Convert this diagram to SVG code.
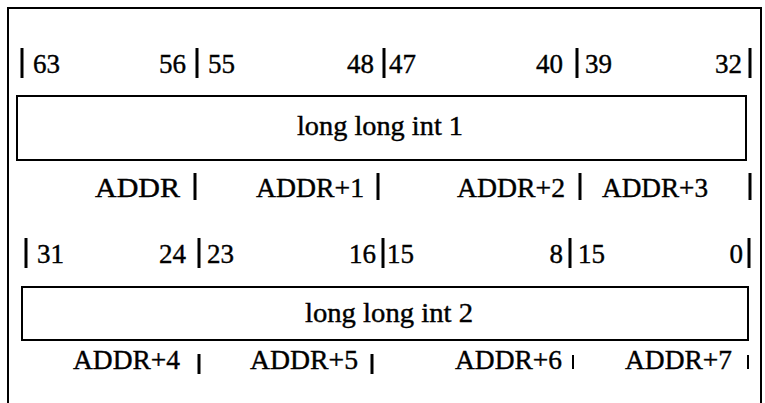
<svg xmlns="http://www.w3.org/2000/svg" width="765" height="403" viewBox="0 0 765 403">
<style>
text{font-size:27px;fill:#000;stroke:#000;stroke-width:0.4}
.e{text-anchor:end}
.frame{fill:none;stroke:#000;stroke-width:2}
.bar{stroke:#000;stroke-width:3}
.thin{stroke:#000;stroke-width:2}
</style>
<rect width="765" height="403" fill="#fff"/>
<g font-family="Liberation Serif, Times New Roman, serif">
<g id="frame">
<path class="frame" d="M8 410 V8 H761 V410"/>
</g>
<g id="bits-high">
<line class="bar" x1="22" y1="48" x2="22" y2="78"/>
<text x="33" y="73">63</text>
<text class="e" x="186" y="73">56</text>
<line class="bar" x1="197" y1="48" x2="197" y2="78"/>
<text x="208" y="73">55</text>
<text class="e" x="374" y="73">48</text>
<line class="bar" x1="384" y1="48" x2="384" y2="78"/>
<text x="389" y="73">47</text>
<text class="e" x="563" y="73">40</text>
<line class="bar" x1="577" y1="48" x2="577" y2="78"/>
<text x="585" y="73">39</text>
<text class="e" x="742" y="73">32</text>
<line class="bar" x1="750" y1="48" x2="750" y2="78"/>
</g>
<g id="int1">
<rect class="frame" x="17" y="96" width="729" height="64"/>
<text x="297" y="135" textLength="166" lengthAdjust="spacingAndGlyphs">long long int 1</text>
</g>
<g id="addr-high">
<text x="95" y="197" textLength="85" lengthAdjust="spacingAndGlyphs">ADDR</text>
<line class="bar" x1="195" y1="173" x2="195" y2="200"/>
<text x="256" y="197" textLength="108" lengthAdjust="spacingAndGlyphs">ADDR+1</text>
<line class="bar" x1="378" y1="173" x2="378" y2="200"/>
<text x="457" y="197" textLength="108" lengthAdjust="spacingAndGlyphs">ADDR+2</text>
<line class="bar" x1="580" y1="173" x2="580" y2="200"/>
<text x="602" y="197" textLength="106" lengthAdjust="spacingAndGlyphs">ADDR+3</text>
<line class="bar" x1="750" y1="173" x2="750" y2="200"/>
</g>
<g id="bits-low">
<line class="bar" x1="26" y1="238" x2="26" y2="268"/>
<text x="37" y="263">31</text>
<text class="e" x="186" y="263">24</text>
<line class="bar" x1="199" y1="238" x2="199" y2="268"/>
<text x="207" y="263">23</text>
<text class="e" x="376" y="263">16</text>
<line class="bar" x1="383" y1="238" x2="383" y2="268"/>
<text x="387" y="263">15</text>
<text class="e" x="563" y="263">8</text>
<line class="bar" x1="570" y1="238" x2="570" y2="268"/>
<text x="578" y="263">15</text>
<text class="e" x="743" y="263">0</text>
<line class="bar" x1="749" y1="238" x2="749" y2="268"/>
</g>
<g id="int2">
<rect class="frame" x="22" y="287" width="726" height="53"/>
<text x="305" y="322" textLength="168" lengthAdjust="spacingAndGlyphs">long long int 2</text>
</g>
<g id="addr-low">
<text x="73" y="369" textLength="107" lengthAdjust="spacingAndGlyphs">ADDR+4</text>
<line class="bar" x1="199" y1="354" x2="199" y2="374"/>
<text x="250" y="369" textLength="108" lengthAdjust="spacingAndGlyphs">ADDR+5</text>
<line class="bar" x1="372" y1="354" x2="372" y2="374"/>
<text x="455" y="369" textLength="107" lengthAdjust="spacingAndGlyphs">ADDR+6</text>
<line class="thin" x1="573" y1="355" x2="573" y2="369"/>
<text x="625" y="369" textLength="107" lengthAdjust="spacingAndGlyphs">ADDR+7</text>
<line class="thin" x1="748" y1="355" x2="748" y2="369"/>
</g>
</g>
</svg>
